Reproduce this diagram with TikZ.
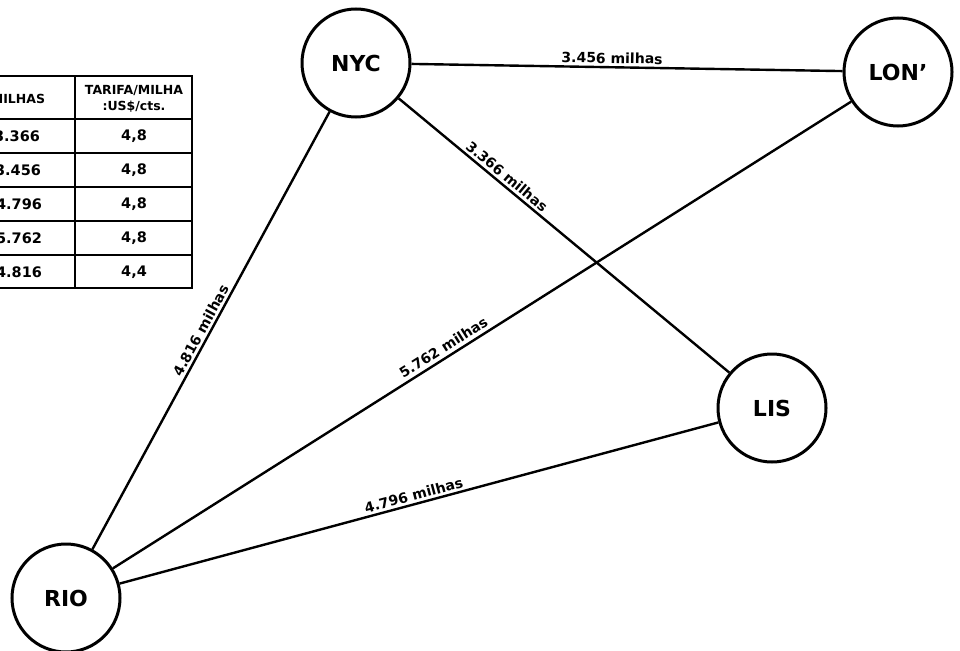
\documentclass[tikz,border=0pt]{standalone}
\usepackage{fontspec}
\setmainfont{DejaVu Sans}
\begin{document}
\begin{tikzpicture}[x=1pt,y=-1pt,
  city/.style={circle,draw,line width=3pt,minimum size=108pt,inner sep=0pt,
    font=\fontsize{22}{22}\selectfont\bfseries},
  route/.style={line width=2.4pt},
  dist/.style={sloped,above,inner sep=2.5pt,font=\fontsize{14}{14}\selectfont\bfseries},
  cell/.style={font=\fontsize{14.5}{14.5}\selectfont\bfseries},
  head/.style={align=center,font=\fontsize{12.5}{16}\selectfont\bfseries},
  rule/.style={line width=1.6pt}]
\useasboundingbox (0,0) rectangle (960,650);
\clip (0,0) rectangle (960,650);
% table (its left part lies outside the picture)
\draw[line width=2.2pt] (-45,76) rectangle (192,288);
\draw[rule] (75,76) -- (75,288);
\foreach \y in {119,153,187,221,255} \draw[rule] (-45,\y) -- (192,\y);
\node[head] (hm) at (18,99) {MILHAS};
\node[head] (ht) at (134,99) {TARIFA/MILHA\\:US\$/cts.};
\node[cell] (m1) at (17,136) {3.366};
\node[cell] (m2) at (18,170) {3.456};
\node[cell] (m3) at (19,204) {4.796};
\node[cell] (m4) at (19,238) {5.762};
\node[cell] (m5) at (19,272) {4.816};
\node[cell] (t1) at (134,136) {4,8};
\node[cell] (t2) at (134,170) {4,8};
\node[cell] (t3) at (134,204) {4,8};
\node[cell] (t4) at (134,238) {4,8};
\node[cell] (t5) at (134,272) {4,4};
% cities
\node[city] (nyc) at (356,63) {NYC};
\node[city] (lon) at (898,72) {LON'};
\node[city] (lis) at (772,408) {LIS};
\node[city] (rio) at (66,598) {RIO};
% routes
\draw[route] (nyc) -- node[dist,pos=0.465] {3.456 milhas} (lon);
\draw[route] (nyc) -- node[dist,pos=0.31] {3.366 milhas} (lis);
\draw[route] (rio) -- node[dist,pos=0.49] {4.816 milhas} (nyc);
\draw[route] (rio) -- node[dist,pos=0.455,inner sep=3.5pt] {5.762 milhas} (lon);
\draw[route] (rio) -- node[dist,pos=0.495] {4.796 milhas} (lis);
\end{tikzpicture}
\end{document}
